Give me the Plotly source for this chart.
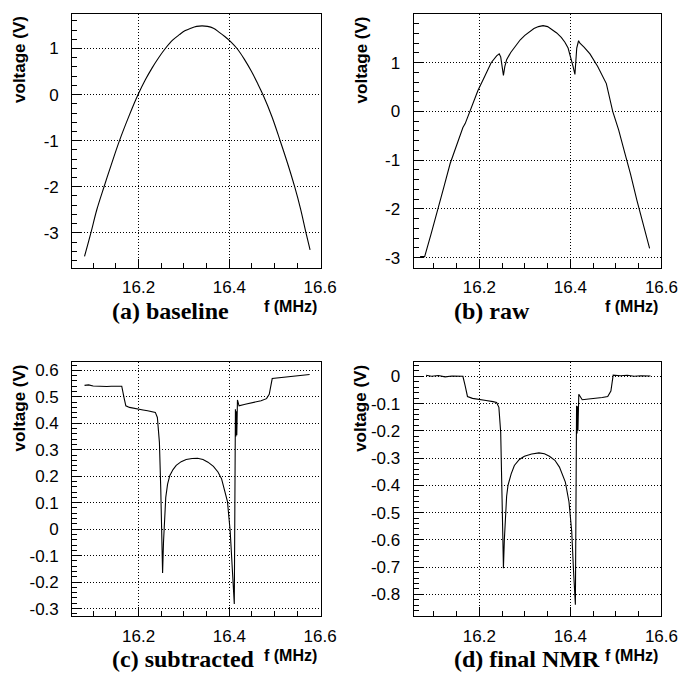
import plotly.graph_objects as go

# ---------------- data ----------------
f_a = [16.081, 16.095, 16.108, 16.124, 16.140, 16.158, 16.178, 16.199, 16.215, 16.230, 16.245,
       16.259, 16.275, 16.290, 16.303, 16.315, 16.328, 16.340, 16.352, 16.365, 16.378, 16.390,
       16.404, 16.417, 16.433, 16.449, 16.462, 16.474, 16.494, 16.512, 16.528, 16.544, 16.557,
       16.569, 16.578]
v_a = [-3.51, -3.00, -2.50, -2.00, -1.52, -1.00, -0.49, 0.00, 0.32, 0.58, 0.81,
       1.00, 1.18, 1.30, 1.39, 1.44, 1.48, 1.49, 1.48, 1.44, 1.35, 1.26,
       1.14, 1.00, 0.77, 0.50, 0.25, 0.00, -0.48, -1.00, -1.48, -2.00, -2.48,
       -3.00, -3.37]

f_b = [16.070, 16.080, 16.094, 16.107, 16.122, 16.136, 16.154, 16.164, 16.169, 16.180, 16.197,
       16.212, 16.226, 16.238, 16.2437, 16.247, 16.250, 16.253, 16.256, 16.260, 16.269, 16.280,
       16.290, 16.300, 16.310, 16.320, 16.330, 16.340, 16.350, 16.360, 16.370, 16.380, 16.388,
       16.395, 16.401, 16.406, 16.410, 16.414, 16.418, 16.421, 16.430, 16.443, 16.460, 16.479,
       16.493, 16.506, 16.518, 16.532, 16.546, 16.560, 16.574]
v_b = [-2.98, -2.98, -2.52, -2.09, -1.56, -1.07, -0.59, -0.33, -0.25, 0.03, 0.43,
       0.72, 1.00, 1.14, 1.18, 1.12, 0.90, 0.74, 0.92, 1.06, 1.21, 1.36,
       1.47, 1.56, 1.64, 1.70, 1.74, 1.76, 1.74, 1.68, 1.61, 1.52, 1.42,
       1.30, 1.12, 0.92, 0.76, 1.30, 1.45, 1.40, 1.32, 1.18, 0.92, 0.57,
       0.00, -0.38, -0.80, -1.28, -1.82, -2.30, -2.81]

f_c = [16.081, 16.090, 16.100, 16.110, 16.120, 16.130, 16.140, 16.150, 16.163, 16.168, 16.172,
       16.180, 16.197, 16.210, 16.220, 16.230, 16.237, 16.2415, 16.246, 16.249, 16.251, 16.253,
       16.255, 16.257, 16.260, 16.264, 16.269, 16.276, 16.283, 16.294, 16.305, 16.318, 16.330,
       16.342, 16.353, 16.365, 16.375, 16.383, 16.389, 16.396, 16.402, 16.406, 16.411, 16.4135,
       16.4145, 16.4155, 16.4165, 16.418, 16.4215, 16.435, 16.454, 16.470, 16.482, 16.488,
       16.4946, 16.511, 16.525, 16.540, 16.555, 16.577]
v_c = [0.543, 0.545, 0.541, 0.540, 0.540, 0.539, 0.540, 0.540, 0.540, 0.497, 0.466,
       0.460, 0.453, 0.450, 0.447, 0.444, 0.441, 0.422, 0.328, 0.150, 0.000, -0.166,
       -0.050, 0.050, 0.120, 0.170, 0.203, 0.225, 0.241, 0.255, 0.263, 0.267, 0.268,
       0.263, 0.253, 0.237, 0.216, 0.190, 0.154, 0.104, -0.009, -0.134, -0.283, 0.453,
       0.350, 0.445, 0.355, 0.488, 0.466, 0.472, 0.478, 0.485, 0.493, 0.509,
       0.569, 0.572, 0.576, 0.578, 0.582, 0.584]

f_d = [16.083, 16.095, 16.110, 16.125, 16.140, 16.152, 16.164, 16.169, 16.174, 16.185, 16.199,
       16.215, 16.230, 16.238, 16.243, 16.247, 16.250, 16.253, 16.255, 16.257, 16.260, 16.263,
       16.270, 16.277, 16.288, 16.299, 16.315, 16.331, 16.343, 16.354, 16.366, 16.376, 16.389,
       16.397, 16.403, 16.407, 16.411, 16.4136, 16.4146, 16.4156, 16.4166, 16.4185, 16.426,
       16.440, 16.454, 16.470, 16.482, 16.489, 16.494, 16.510, 16.525, 16.540, 16.555, 16.576]
v_d = [0.004, 0.000, 0.003, -0.002, 0.001, 0.000, 0.000, -0.035, -0.074, -0.081, -0.086,
       -0.089, -0.093, -0.096, -0.114, -0.206, -0.450, -0.704, -0.600, -0.510, -0.440, -0.400,
       -0.358, -0.327, -0.305, -0.293, -0.285, -0.281, -0.284, -0.293, -0.308, -0.333, -0.388,
       -0.461, -0.570, -0.716, -0.838, -0.108, -0.210, -0.110, -0.200, -0.066, -0.086,
       -0.083, -0.081, -0.078, -0.074, -0.054, 0.004, 0.002, 0.004, 0.000, 0.002, 0.001]

x_tick_vals = [16.2, 16.4, 16.6]
x_tick_text = ["16.2", "16.4", "16.6"]
y_tick_vals_ab = [-3, -2, -1, 0, 1]
y_tick_text_ab = ["-3", "-2", "-1", "0", "1"]
y_tick_vals_c = [-0.3, -0.2, -0.1, 0, 0.1, 0.2, 0.3, 0.4, 0.5, 0.6]
y_tick_text_c = ["-0.3", "-0.2", "-0.1", "0", "0.1", "0.2", "0.3", "0.4", "0.5", "0.6"]
y_tick_vals_d = [-0.8, -0.7, -0.6, -0.5, -0.4, -0.3, -0.2, -0.1, 0]
y_tick_text_d = ["-0.8", "-0.7", "-0.6", "-0.5", "-0.4", "-0.3", "-0.2", "-0.1", "0"]

captions = ["(a) baseline", "(b) raw", "(c) subtracted", "(d) final NMR"]
x_title = "f (MHz)"
y_title = "voltage (V)"

# ---------------- layout geometry (pixels) ----------------
W, H = 696, 675
panels = [
    dict(box=(74, 329, 13, 268), xr=[16.0538, 16.602], yr=[-3.76, 1.75], ydm=0.2,
         f=f_a, v=v_a, tv=y_tick_vals_ab, tt=y_tick_text_ab, shape="spline"),
    dict(box=(424, 678, 13, 268), xr=[16.0558, 16.600], yr=[-3.21, 2.00], ydm=0.2,
         f=f_b, v=v_b, tv=y_tick_vals_ab, tt=y_tick_text_ab, shape="linear"),
    dict(box=(74, 329, 363, 618), xr=[16.0538, 16.602], yr=[-0.329, 0.63], ydm=0.02,
         f=f_c, v=v_c, tv=y_tick_vals_c, tt=y_tick_text_c, shape="linear"),
    dict(box=(424, 678, 363, 618), xr=[16.0558, 16.600], yr=[-0.88, 0.051], ydm=0.02,
         f=f_d, v=v_d, tv=y_tick_vals_d, tt=y_tick_text_d, shape="linear"),
]

SANS = "Liberation Sans, Arial, sans-serif"
SERIF = "Liberation Serif, Times New Roman, serif"
GRID_DASH = "1px,2px"

fig = go.Figure()
layout = dict(width=W, height=H, margin=dict(l=0, r=0, t=0, b=0),
              paper_bgcolor="white", plot_bgcolor="white", showlegend=False)
annotations = []

for i, p in enumerate(panels):
    n = "" if i == 0 else str(i + 1)
    l, r, t, b = p["box"]
    fig.add_trace(go.Scatter(x=p["f"], y=p["v"], mode="lines",
                             line=dict(color="black", width=1.1, shape=p["shape"]),
                             xaxis="x" + n, yaxis="y" + n, hoverinfo="skip"))
    layout["xaxis" + n] = dict(
        domain=[l / W, r / W], range=p["xr"], anchor="y" + n,
        tickvals=x_tick_vals, ticktext=x_tick_text,
        ticks="inside", ticklen=9, tickcolor="black", tickwidth=1,
        minor=dict(ticks="inside", dtick=0.05, tick0=16.0, ticklen=5, tickcolor="black",
                   showgrid=False),
        showline=True, linecolor="black", linewidth=1, mirror=True,
        showgrid=True, gridcolor="black", griddash=GRID_DASH, gridwidth=1,
        zeroline=False, ticklabelstandoff=4,
        tickfont=dict(family=SANS, size=17, color="black"))
    layout["yaxis" + n] = dict(
        domain=[1 - b / H, 1 - t / H], range=p["yr"], anchor="x" + n,
        tickvals=p["tv"], ticktext=p["tt"],
        ticks="inside", ticklen=9, tickcolor="black", tickwidth=1,
        minor=dict(ticks="inside", dtick=p["ydm"], tick0=0, ticklen=5, tickcolor="black",
                   showgrid=False),
        showline=True, linecolor="black", linewidth=1, mirror=True,
        showgrid=True, gridcolor="black", griddash=GRID_DASH, gridwidth=1,
        zeroline=False, ticklabelstandoff=9,
        tickfont=dict(family=SANS, size=17, color="black"))
    # y axis title, aligned to the top end of the axis
    annotations.append(dict(text="<b>" + y_title + "</b>", textangle=-90,
                            xref="paper", yref="paper", x=(l - 54) / W, y=1 - t / H,
                            xanchor="center", yanchor="top", showarrow=False,
                            font=dict(family=SANS, size=17, color="black")))
    # x axis title, right-aligned near the axis end
    annotations.append(dict(text="<b>" + x_title + "</b>",
                            xref="paper", yref="paper", x=(r - 3) / W, y=1 - (b + 39) / H,
                            xanchor="right", yanchor="middle", showarrow=False, borderpad=0,
                            font=dict(family=SANS, size=16, color="black")))
    # caption (text box bottom at b + 57 px)
    annotations.append(dict(text="<b>" + captions[i] + "</b>",
                            xref="paper", yref="paper", x=(l + 40) / W, y=1 - (b + 57) / H,
                            xanchor="left", yanchor="bottom", showarrow=False, borderpad=0,
                            font=dict(family=SERIF, size=24, color="black")))

layout["annotations"] = annotations
fig.update_layout(**layout)
fig.write_html("out.html")
